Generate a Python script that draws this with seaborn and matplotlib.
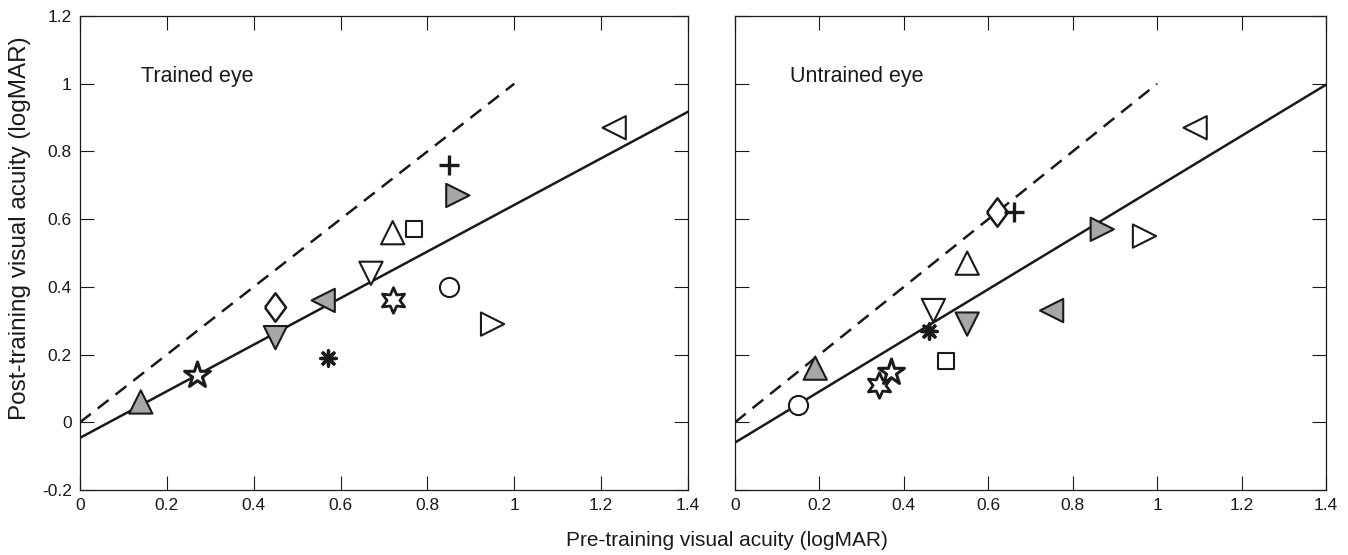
import numpy as np
import pandas as pd
import matplotlib
matplotlib.use("Agg")
import matplotlib.pyplot as plt
import seaborn as sns

# ---------------- data ----------------
# Trained eye
tr_pre  = [0.14, 0.27, 0.45, 0.45, 0.56, 0.57, 0.67, 0.72, 0.77, 0.72, 0.85, 0.87, 0.85, 0.95, 1.23]
tr_post = [0.06, 0.14, 0.25, 0.34, 0.36, 0.19, 0.44, 0.56, 0.57, 0.36, 0.76, 0.67, 0.40, 0.29, 0.87]
# Untrained eye
un_pre  = [0.19, 0.37, 0.55, 0.62, 0.75, 0.46, 0.47, 0.55, 0.50, 0.34, 0.66, 0.87, 0.15, 0.97, 1.09]
un_post = [0.16, 0.15, 0.29, 0.62, 0.33, 0.27, 0.33, 0.47, 0.18, 0.11, 0.62, 0.57, 0.05, 0.55, 0.87]
# subject symbol and fill (same order in both panels)
subj_shape = ["tri_up", "star5", "tri_down", "diamond", "tri_left", "asterisk", "tri_down", "tri_up",
              "square", "hexagram", "plus", "tri_right", "circle", "tri_right", "tri_left"]
subj_fill  = ["gray", "open", "gray", "open", "gray", "line", "open", "open",
              "open", "open", "line", "gray", "open", "open", "open"]
# regression fits (intercept, slope)
tr_fit = (-0.046, 0.688)
un_fit = (-0.060, 0.755)
identity_x = [0, 1]
identity_y = [0, 1]
panel_titles = ["Trained eye", "Untrained eye"]
x_ticks = [0, 0.2, 0.4, 0.6, 0.8, 1, 1.2, 1.4]
y_ticks = [-0.2, 0, 0.2, 0.4, 0.6, 0.8, 1, 1.2]
tick_labels_x = ["0", "0.2", "0.4", "0.6", "0.8", "1", "1.2", "1.4"]
tick_labels_y = ["-0.2", "0", "0.2", "0.4", "0.6", "0.8", "1", "1.2"]

# ---------------- styling ----------------
sns.set_theme(style="white")
plt.rcParams["font.family"] = ["Liberation Sans", "DejaVu Sans"]

diamond = [(-0.74, 0), (0, 1), (0.74, 0), (0, -1), (-0.74, 0)]
marker_map = {
    "tri_up": "^", "tri_down": "v", "tri_left": "<", "tri_right": ">",
    "star5": "*", "hexagram": (6, 1, 0), "diamond": diamond, "square": "s",
    "circle": "o", "plus": "+", "asterisk": (8, 2, 0),
}
size_map = {
    "tri_up": 280, "tri_down": 280, "tri_left": 280, "tri_right": 280,
    "star5": 380, "hexagram": 340, "diamond": 420, "square": 120,
    "circle": 190, "plus": 200, "asterisk": 120,
}
lw_map = {"star5": 2.2, "hexagram": 2.0, "diamond": 1.8}
gray = "#a9a6a6"
ink = "#1a1a1a"
palette = {"gray": gray, "open": "white"}

fig = plt.figure(figsize=(13.48, 5.55), dpi=100)
ax1 = fig.add_axes([80 / 1348, 65 / 555, 608 / 1348, 474 / 555])
ax2 = fig.add_axes([735 / 1348, 65 / 555, 591 / 1348, 474 / 555])

panels = [(ax1, tr_pre, tr_post, tr_fit), (ax2, un_pre, un_post, un_fit)]
for i, (ax, xs, ys, fit) in enumerate(panels):
    df = pd.DataFrame({"pre": xs, "post": ys, "shape": subj_shape, "fill": subj_fill})
    # identity (dashed) and regression (solid)
    sns.lineplot(x=identity_x, y=identity_y, ax=ax, color=ink, lw=1.8,
                 linestyle=(0, (5.5, 3.5)), zorder=1)
    ax.axline((0, fit[0]), slope=fit[1], color=ink, lw=1.8, zorder=1)
    # filled / open symbols
    for shp, g in df[df["fill"] != "line"].groupby("shape"):
        sns.scatterplot(data=g, x="pre", y="post", hue="fill", palette=palette,
                        marker=marker_map[shp], s=size_map[shp], edgecolor=ink,
                        linewidth=lw_map.get(shp, 1.5), ax=ax, legend=False, zorder=3)
    # line-art symbols
    for shp, g in df[df["fill"] == "line"].groupby("shape"):
        sns.scatterplot(data=g, x="pre", y="post", color=ink,
                        marker=marker_map[shp], s=size_map[shp],
                        linewidth=2.4, ax=ax, legend=False, zorder=3)

    ax.set_xlim(0, 1.4)
    ax.set_ylim(-0.2, 1.2)
    ax.set_xticks(x_ticks)
    ax.set_xticklabels(tick_labels_x)
    ax.set_yticks(y_ticks)
    if i == 0:
        ax.set_yticklabels(tick_labels_y)
    else:
        ax.set_yticklabels([])
    ax.tick_params(direction="in", length=10, width=0.8, top=True, right=True,
                   bottom=True, left=True, labelsize=12.5, colors=ink, pad=6)
    for sp in ax.spines.values():
        sp.set_visible(True)
        sp.set_linewidth(0.9)
        sp.set_color(ink)
    ax.set_xlabel("")
    ax.set_ylabel("")
    ax.text(0.14 if i == 0 else 0.13, 1.02, panel_titles[i], fontsize=15.5,
            color=ink, ha="left", va="center")

ax1.set_ylabel("Post-training visual acuity (logMAR)", fontsize=17.5, color=ink)
ax1.yaxis.set_label_coords(-49 / 608, 0.553)
fig.text(727 / 1348, 1 - 540 / 555, "Pre-training visual acuity (logMAR)", fontsize=15,
         color=ink, ha="center", va="center")

fig.savefig("out.png", dpi=100)
